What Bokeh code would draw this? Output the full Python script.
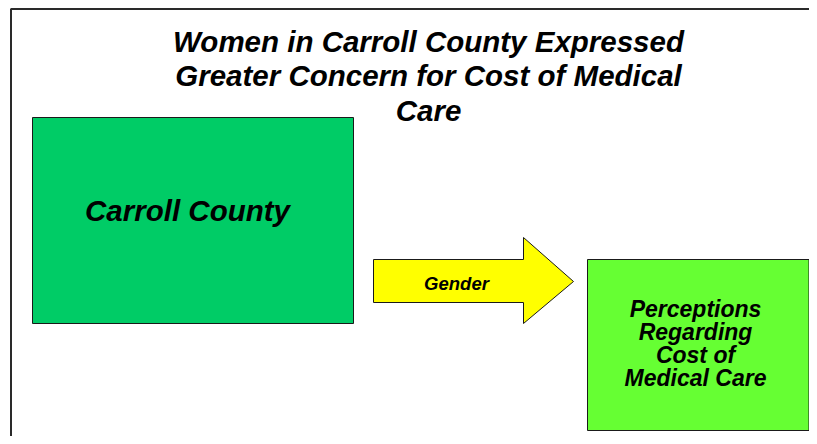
from bokeh.plotting import figure
from bokeh.models import Range1d
from bokeh.core.properties import value
from bokeh.embed import file_html
from bokeh.resources import INLINE

# ---- content ----
title_lines = ["Women in Carroll County Expressed",
               "Greater Concern for Cost of Medical",
               "Care"]
source_label = ["Carroll County"]
arrow_label = ["Gender"]
target_lines = ["Perceptions", "Regarding", "Cost of", "Medical Care"]

# ---- colours ----
source_color = "#00CC66"
arrow_color = "#FFFF00"
target_color = "#66FF33"

W, H = 809, 436
FONT = value("Liberation Sans")

p = figure(width=W, height=H, output_backend="svg", toolbar_location=None,
           x_range=Range1d(0, W), y_range=Range1d(H, 0),
           min_border=0, outline_line_color=None)
p.axis.visible = False
p.grid.visible = False
p.background_fill_color = "white"
p.border_fill_color = "white"

# frame lines (top and left)
p.line(x=[10.5, 10.5, W], y=[H, 8.5, 8.5], line_color="#2a2a2a", line_width=2)

# source box
p.quad(left=[32], right=[353], top=[117], bottom=[323],
       fill_color=source_color, line_color="#1a1a1a", line_width=1)

# target box
p.quad(left=[587], right=[808.5], top=[259], bottom=[430],
       fill_color=target_color, line_color="#1a1a1a", line_width=1)

# arrow
ax = [373, 523, 523, 573, 523, 523, 373]
ay = [259, 259, 237, 281, 323, 302, 302]
p.patch(x=ax, y=ay, fill_color=arrow_color, line_color="#1a1a1a", line_width=1)

# title
p.text(x=[428] * len(title_lines), y=[41, 75, 110], text=title_lines,
       text_font=FONT, text_font_style="bold italic", text_font_size="29.5px",
       text_align="center", text_baseline="middle", text_color="black")

# labels
p.text(x=[187], y=[210], text=source_label,
       text_font=FONT, text_font_style="bold italic", text_font_size="29.5px",
       text_align="center", text_baseline="middle", text_color="black")

p.text(x=[456], y=[283], text=arrow_label,
       text_font=FONT, text_font_style="bold italic", text_font_size="18.5px",
       text_align="center", text_baseline="middle", text_color="black")

p.text(x=[695] * len(target_lines), y=[308, 331, 354, 377], text=target_lines,
       text_font=FONT, text_font_style="bold italic", text_font_size="23px",
       text_align="center", text_baseline="middle", text_color="black")

open("out.html", "w").write(file_html(p, INLINE))
